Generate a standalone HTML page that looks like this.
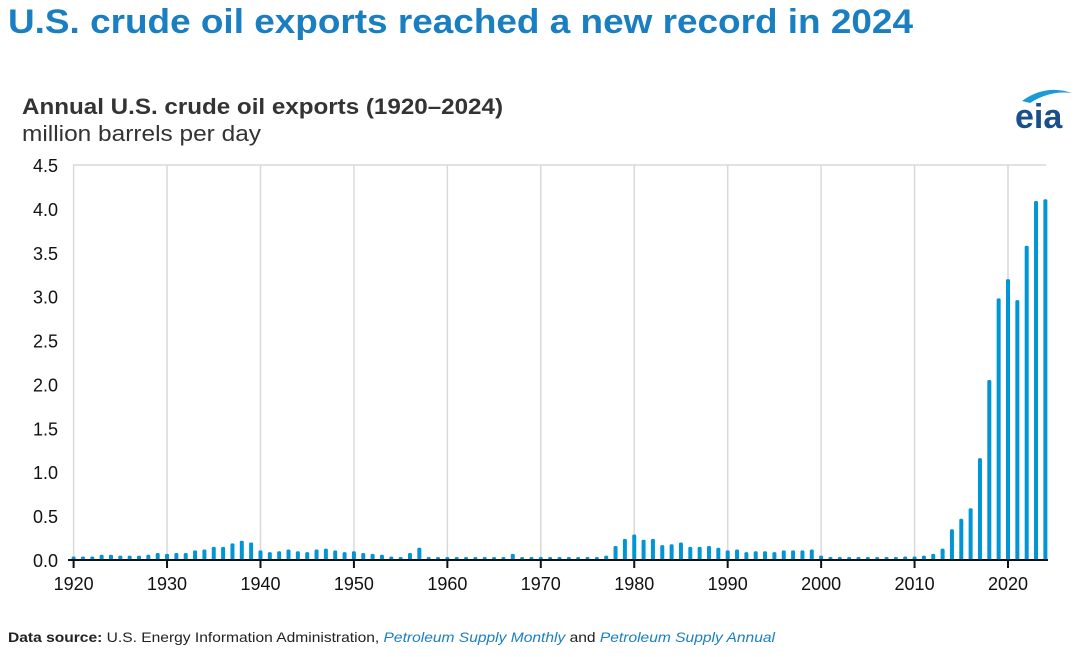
<!DOCTYPE html>
<html><head><meta charset="utf-8"><style>
body{margin:0;width:1080px;height:652px;background:#fff;font-family:"Liberation Sans",Arial,sans-serif;overflow:hidden}
</style></head><body>
<svg width="1080" height="652">
<text x="8" y="33" font-size="34" font-weight="bold" fill="#1a7fc1" textLength="905" lengthAdjust="spacingAndGlyphs">U.S. crude oil exports reached a new record in 2024</text>
<text x="22" y="114" font-size="22" font-weight="bold" fill="#333" textLength="481" lengthAdjust="spacingAndGlyphs">Annual U.S. crude oil exports (1920–2024)</text>
<text x="22" y="141" font-size="22" fill="#333" textLength="239" lengthAdjust="spacingAndGlyphs">million barrels per day</text>
<g>
<text x="1015" y="128" font-size="34" fill="#1a4f8b" font-weight="bold">eia</text>
<path d="M1022 101 Q1045 84 1072 93 Q1050 90 1030 103 Z" fill="#1a9ad6"/>
</g>
<g id="grid"></g><g id="bars"></g><g id="axes"></g>
<text x="8" y="642" font-size="14" fill="#222" textLength="767" lengthAdjust="spacingAndGlyphs"><tspan font-weight="bold">Data source:</tspan> U.S. Energy Information Administration, <tspan fill="#1a7fc1" font-style="italic">Petroleum Supply Monthly</tspan> and <tspan fill="#1a7fc1" font-style="italic">Petroleum Supply Annual</tspan></text>
</svg>
<script>
const startYear=1920;
const values=[0.04,0.04,0.04,0.06,0.06,0.05,0.05,0.05,0.06,0.08,0.07,0.08,0.08,0.11,0.12,0.15,0.15,0.19,0.22,0.20,0.11,0.09,0.10,0.12,0.10,0.09,0.12,0.13,0.11,0.09,0.10,0.08,0.07,0.06,0.04,0.03,0.08,0.14,0.01,0.01,0.01,0.01,0.01,0.01,0.01,0.00,0.00,0.07,0.00,0.00,0.01,0.00,0.00,0.00,0.00,0.01,0.01,0.05,0.16,0.24,0.29,0.23,0.24,0.17,0.18,0.20,0.15,0.15,0.16,0.14,0.11,0.12,0.09,0.10,0.10,0.09,0.11,0.11,0.11,0.12,0.05,0.02,0.01,0.01,0.03,0.03,0.03,0.03,0.03,0.04,0.04,0.05,0.07,0.13,0.35,0.47,0.59,1.16,2.05,2.98,3.20,2.96,3.58,4.09,4.11];
const yTicks=[0,0.5,1,1.5,2,2.5,3,3.5,4,4.5];
const xTicks=[1920,1930,1940,1950,1960,1970,1980,1990,2000,2010,2020];
const NS="http://www.w3.org/2000/svg";
const xPos=yr=>73.6+(yr-1920)*9.344, yPos=v=>560-v*87.78;
function mk(t,a,p){const e=document.createElementNS(NS,t);for(const k in a)e.setAttribute(k,a[k]);document.getElementById(p).appendChild(e);return e;}
const topLine=mk('line',{x1:73,x2:1046,y1:165,y2:165,stroke:'#d9d9d9','stroke-width':1.5},'grid');


xTicks.forEach(t=>{
 const g=mk('line',{x1:xPos(t),x2:xPos(t),y1:165,y2:560,stroke:'#d9d9d9','stroke-width':1.5},'grid');
 
 
 const tk=mk('line',{x1:xPos(t),x2:xPos(t),y1:560,y2:568,stroke:'#111','stroke-width':2},'axes');
 
 
 const l=mk('text',{x:xPos(t),y:590,'font-size':18,'text-anchor':'middle',fill:'#111'},'axes');l.textContent=t;
 
 
});
yTicks.forEach(t=>{
 const l=mk('text',{x:58,y:yPos(t)+7,'font-size':18,'text-anchor':'end',fill:'#111'},'axes');l.textContent=t.toFixed(1);
 
 
});
values.forEach((v,i)=>{
 const h=Math.max(560-yPos(v),3);
 const b=mk('rect',{x:xPos(startYear+i)-2,y:560-h,width:4,height:h,rx:1.5,fill:'#0096d6'},'bars');
 
 
});
const ax=mk('line',{x1:68,x2:1048,y1:560,y2:560,stroke:'#111','stroke-width':2},'axes');


</script>
</body></html>
